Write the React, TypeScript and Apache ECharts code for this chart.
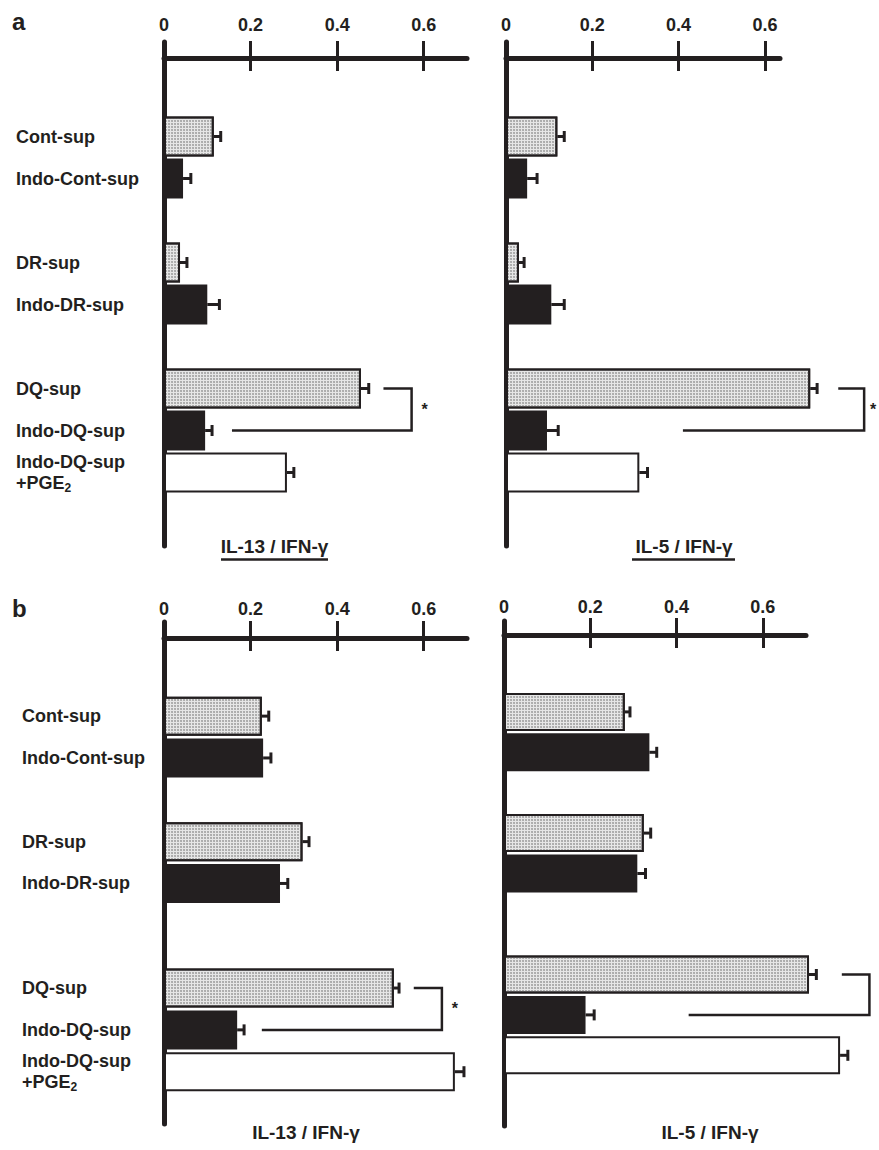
import React, { useEffect, useRef } from 'react';
import * as echarts from 'echarts';

const INK = '#231f20';
const FONT = "'Liberation Sans', Arial, Helvetica, sans-serif";

// groups (bars, top to bottom) and their fill style
const groups = ['Cont-sup', 'Indo-Cont-sup', 'DR-sup', 'Indo-DR-sup', 'DQ-sup', 'Indo-DQ-sup', 'Indo-DQ-sup\n+PGE2'];
const fills = ['dot', 'black', 'dot', 'black', 'dot', 'black', 'white'];

// category rows (blank rows are spacers between groups)
const rowsA = ['', '', '', '', 'Cont-sup', '', 'Indo-Cont-sup', '', '', '', 'DR-sup', '', 'Indo-DR-sup', '', '', '', 'DQ-sup', '', 'Indo-DQ-sup', '', 'Indo-DQ-sup\n+PGE2', '', '', ''];
const rowsB = ['', '', '', '', 'Cont-sup', '', 'Indo-Cont-sup', '', '', '', 'DR-sup', '', 'Indo-DR-sup', '', '', '', '', 'DQ-sup', '', 'Indo-DQ-sup', '', 'Indo-DQ-sup\n+PGE2', '', ''];
const rowsBR = [...rowsB, ''];

const tickLabels = [0, 0.2, 0.4, 0.6];
const tickMarks = [0.2, 0.4, 0.6];

// panel a
const aIL13 = [0.115, 0.044, 0.037, 0.100, 0.455, 0.095, 0.284];
const aIL13Err = [0.016, 0.018, 0.016, 0.028, 0.018, 0.016, 0.016];
const aIL5 = [0.119, 0.049, 0.030, 0.105, 0.705, 0.095, 0.309];
const aIL5Err = [0.016, 0.023, 0.012, 0.030, 0.016, 0.026, 0.019];
// panel b
const bIL13 = [0.226, 0.229, 0.320, 0.268, 0.531, 0.169, 0.672];
const bIL13Err = [0.016, 0.018, 0.015, 0.018, 0.012, 0.016, 0.021];
const bIL5 = [0.280, 0.337, 0.324, 0.309, 0.707, 0.189, 0.779];
const bIL5Err = [0.012, 0.017, 0.016, 0.019, 0.017, 0.020, 0.018];

// significance brackets: [start x, vertical x, end x], between DQ-sup and Indo-DQ-sup
const bracketAIL13 = [0.507, 0.572, 0.157];
const bracketAIL5 = [0.770, 0.830, 0.410];
const bracketBIL13 = [0.577, 0.642, 0.226];
const bracketBIL5 = [0.783, 0.847, 0.428];

const panels = [
  { grid: { left: 164, top: 42, width: 303, height: 504 }, rows: rowsA, values: aIL13, errs: aIL13Err, bracket: bracketAIL13, star: true, starDx: 13, max: 0.7, offset: -16, labelMargin: 24, showCats: true, catMargin: 148, barWidth: 40 },
  { grid: { left: 506, top: 42, width: 274, height: 504 }, rows: rowsA, values: aIL5, errs: aIL5Err, bracket: bracketAIL5, star: true, starDx: 9, max: 0.635, offset: -16, labelMargin: 24, showCats: false, catMargin: 0, barWidth: 40 },
  { grid: { left: 164, top: 622, width: 303, height: 502 }, rows: rowsB, values: bIL13, errs: bIL13Err, bracket: bracketBIL13, star: true, starDx: 13, max: 0.7, offset: -16, labelMargin: 20, showCats: true, catMargin: 142, barWidth: 39 },
  { grid: { left: 504, top: 621, width: 302, height: 505 }, rows: rowsBR, values: bIL5, errs: bIL5Err, bracket: bracketBIL5, star: false, starDx: 13, max: 0.7, offset: -14, labelMargin: 19, showCats: false, catMargin: 0, barWidth: 38 },
];

const fillStyles: Record<string, any> = {
  dot: {
    color: '#e6e6e6', borderColor: INK, borderWidth: 2,
    decal: { symbol: 'circle', symbolSize: 0.8, color: '#8e8e8e', dashArrayX: [2, 1], dashArrayY: [2, 1], rotation: 0 },
  },
  black: { color: INK, borderWidth: 0 },
  white: { color: '#ffffff', borderColor: INK, borderWidth: 2 },
};

function buildOption() {
  const grid: any[] = [];
  const xAxis: any[] = [];
  const yAxis: any[] = [];
  const series: any[] = [];

  panels.forEach((p, i) => {
    grid.push({ ...p.grid, containLabel: false, outerBoundsMode: 'none' });
    xAxis.push({
      type: 'value', gridIndex: i, position: 'top', offset: p.offset, min: 0, max: p.max, interval: 0.2,
      splitLine: { show: false },
      axisLine: { show: true, lineStyle: { color: INK, width: 5 } },
      axisTick: { show: true, inside: true, length: 13, customValues: tickMarks, lineStyle: { color: INK, width: 3 } },
      axisLabel: {
        show: true, customValues: tickLabels, margin: p.labelMargin, color: INK,
        fontFamily: FONT, fontWeight: 'bold', fontSize: 18,
        formatter: (v: number) => (v === 0 ? '0' : String(Math.round(v * 10) / 10)),
      },
    });
    xAxis.push({
      type: 'value', gridIndex: i, position: 'top', offset: p.offset, min: 0, max: p.max, interval: 0.2,
      splitLine: { show: false },
      axisLine: { show: false },
      axisTick: { show: true, inside: false, length: 17, customValues: tickMarks, lineStyle: { color: INK, width: 3 } },
      axisLabel: { show: false },
    });
    yAxis.push({
      type: 'category', gridIndex: i, data: p.rows, inverse: true, boundaryGap: true,
      axisLine: { show: true, lineStyle: { color: INK, width: 5 } },
      axisTick: { show: false },
      splitLine: { show: false },
      axisLabel: {
        show: p.showCats, interval: 0, align: 'left', margin: p.catMargin,
        formatter: (v: string) => {
          if (!v) return '';
          if (v.indexOf('PGE2') >= 0) return '{n|Indo-DQ-sup}\n{n|+PGE}{s|2}';
          return '{n|' + v + '}';
        },
        rich: {
          n: { fontFamily: FONT, fontWeight: 'bold', fontSize: 18, color: INK, lineHeight: 21 },
          s: { fontFamily: FONT, fontWeight: 'bold', fontSize: 12, color: INK, lineHeight: 10, verticalAlign: 'bottom' },
        },
      },
    });

    ['dot', 'black', 'white'].forEach((f) => {
      const data: any[] = [];
      groups.forEach((g, k) => {
        if (fills[k] === f) data.push([p.values[k], p.rows.indexOf(g)]);
      });
      series.push({
        type: 'bar', xAxisIndex: 2 * i, yAxisIndex: i, barWidth: p.barWidth, barGap: '-100%',
        clip: false, silent: true, itemStyle: fillStyles[f], data,
      });
    });

    series.push({
      type: 'custom', xAxisIndex: 2 * i, yAxisIndex: i, clip: false, silent: true,
      encode: { x: 0, y: 1 },
      data: groups.map((g, k) => [p.values[k], p.rows.indexOf(g), p.errs[k]]),
      renderItem: (params: any, api: any) => {
        const v = api.value(0), idx = api.value(1), e = api.value(2);
        const a = api.coord([v, idx]);
        const b = api.coord([v + e, idx]);
        return {
          type: 'group',
          children: [
            { type: 'line', shape: { x1: a[0], y1: a[1], x2: b[0], y2: b[1] }, style: { stroke: INK, lineWidth: 3 } },
            { type: 'line', shape: { x1: b[0], y1: b[1] - 5.5, x2: b[0], y2: b[1] + 5.5 }, style: { stroke: INK, lineWidth: 3 } },
          ],
        };
      },
    });

    const topIdx = p.rows.indexOf('DQ-sup');
    const botIdx = p.rows.indexOf('Indo-DQ-sup');
    const starDx = p.starDx;
    series.push({
      type: 'custom', xAxisIndex: 2 * i, yAxisIndex: i, clip: false, silent: true,
      encode: { x: 0, y: 1 },
      data: [[p.bracket[0], topIdx, p.bracket[1], botIdx, p.bracket[2], p.star ? 1 : 0]],
      renderItem: (params: any, api: any) => {
        const p1 = api.coord([api.value(0), api.value(1)]);
        const pv1 = api.coord([api.value(2), api.value(1)]);
        const pv2 = api.coord([api.value(2), api.value(3)]);
        const p2 = api.coord([api.value(4), api.value(3)]);
        const children: any[] = [
          { type: 'polyline', shape: { points: [p1, pv1, pv2, p2] }, style: { stroke: INK, lineWidth: 2.5, fill: 'none' } },
        ];
        if (api.value(5)) {
          children.push({
            type: 'text', x: pv1[0] + starDx, y: (pv1[1] + pv2[1]) / 2,
            style: { text: '*', fill: INK, font: 'bold 16px ' + FONT, align: 'center', verticalAlign: 'middle' },
          });
        }
        return { type: 'group', children };
      },
    });
  });

  const textStyle = (t: string, size: number) => ({ text: t, fill: INK, font: 'bold ' + size + 'px ' + FONT, align: 'center', verticalAlign: 'middle' });
  const graphic: any[] = [
    { type: 'text', left: 12, top: 9, style: { text: 'a', fill: INK, font: 'bold 24px ' + FONT } },
    { type: 'text', left: 12, top: 596, style: { text: 'b', fill: INK, font: 'bold 24px ' + FONT } },
    { type: 'text', x: 274.5, y: 546, style: textStyle('IL-13 / IFN-γ', 19) },
    { type: 'line', shape: { x1: 221, y1: 559.5, x2: 328, y2: 559.5 }, style: { stroke: INK, lineWidth: 2.5 } },
    { type: 'text', x: 684, y: 546, style: textStyle('IL-5 / IFN-γ', 19) },
    { type: 'line', shape: { x1: 632, y1: 559.5, x2: 735, y2: 559.5 }, style: { stroke: INK, lineWidth: 2.5 } },
    { type: 'text', x: 306, y: 1132, style: textStyle('IL-13 / IFN-γ', 19) },
    { type: 'text', x: 710, y: 1132, style: textStyle('IL-5 / IFN-γ', 19) },
  ];

  return {
    animation: false,
    backgroundColor: '#ffffff',
    grid, xAxis, yAxis, series, graphic,
  };
}

export default function App() {
  const ref = useRef<HTMLDivElement>(null);
  useEffect(() => {
    if (!ref.current) return;
    const chart = echarts.init(ref.current, undefined, { renderer: 'svg' });
    chart.setOption(buildOption() as any);
    return () => chart.dispose();
  }, []);
  return <div ref={ref} style={{ position: 'absolute', left: 0, top: 0, width: 879, height: 1150 }} />;
}
